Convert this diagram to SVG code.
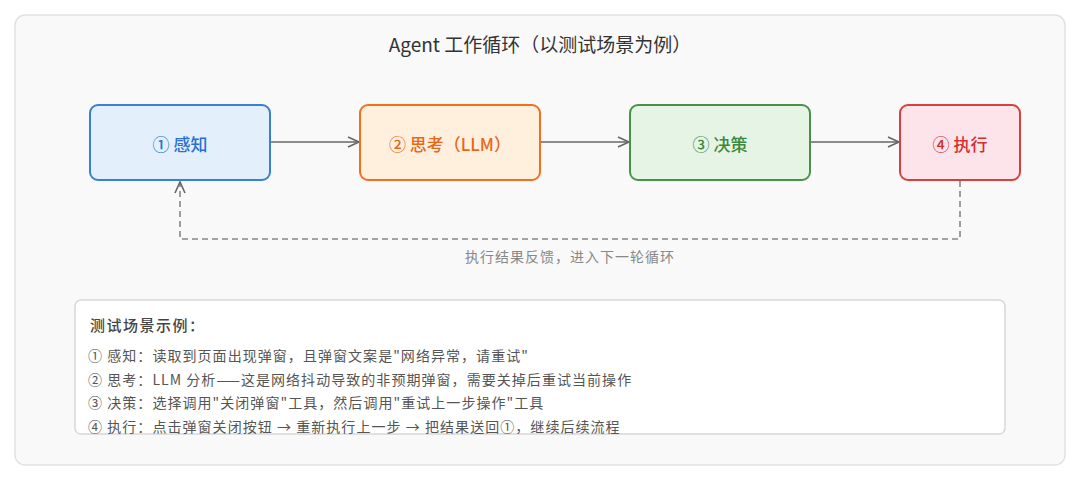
<svg xmlns="http://www.w3.org/2000/svg" width="1080" height="480" viewBox="0 0 1080 480">
<style>
text{font-family:"Noto Sans CJK SC","Noto Sans",sans-serif}
.node rect{stroke-width:2}
.nl{font-size:17px;font-weight:500;text-anchor:middle;dominant-baseline:central}
.ex{font-size:14px;fill:#555;letter-spacing:1.05px}
.conn{fill:none;stroke:#666;stroke-width:1.6}
</style>
<defs>
<marker id="arr" markerWidth="14" markerHeight="12" refX="12" refY="6" orient="auto" markerUnits="userSpaceOnUse">
<path d="M1,1 L12,6 L1,11" fill="none" stroke="#666" stroke-width="1.6"/>
</marker>
<clipPath id="bc"><rect x="75" y="300" width="930" height="134" rx="6"/></clipPath>
</defs>
<rect x="0" y="0" width="1080" height="480" fill="#ffffff"/>
<rect x="15" y="15" width="1050" height="450" rx="10" fill="#f9f9f9" stroke="#e2e2e2" stroke-width="1.5"/>
<text x="540" y="52" text-anchor="middle" font-size="19" fill="#333">Agent 工作循环（以测试场景为例）</text>
<g id="connectors">
<line class="conn" x1="270" y1="142" x2="359" y2="142" marker-end="url(#arr)"/>
<line class="conn" x1="540" y1="142" x2="629" y2="142" marker-end="url(#arr)"/>
<line class="conn" x1="810" y1="142" x2="899" y2="142" marker-end="url(#arr)"/>
<path d="M960,181 L960,239 L180,239 L180,182" fill="none" stroke="#888" stroke-width="1.6" stroke-dasharray="6,4" marker-end="url(#arr)"/>
<text x="570" y="262" text-anchor="middle" font-size="14" letter-spacing="1" fill="#888">执行结果反馈，进入下一轮循环</text>
</g>
<g id="n1" class="node"><rect x="90" y="105" width="180" height="75" rx="8" fill="#e3f0fc" stroke="#3a7fd0"/><text class="nl" x="180" y="143" fill="#2a6fcf">① 感知</text></g>
<g id="n2" class="node"><rect x="360" y="105" width="180" height="75" rx="8" fill="#fff0de" stroke="#f07020"/><text class="nl" x="450" y="143" fill="#e8671a">② 思考（LLM）</text></g>
<g id="n3" class="node"><rect x="630" y="105" width="180" height="75" rx="8" fill="#e6f4e6" stroke="#4a9248"/><text class="nl" x="720" y="143" fill="#3b8a3b">③ 决策</text></g>
<g id="n4" class="node"><rect x="900" y="105" width="120" height="75" rx="8" fill="#fde4ea" stroke="#d84040"/><text class="nl" x="960" y="143" fill="#d03030">④ 执行</text></g>
<g id="example">
<rect x="75" y="300" width="930" height="134" rx="6" fill="#ffffff" stroke="#d8d8d8" stroke-width="1.5"/>
<g clip-path="url(#bc)">
<text x="90" y="331" font-size="15" letter-spacing="1.5" fill="#444" font-weight="500">测试场景示例：</text>
<text class="ex" x="88" y="361">① 感知：读取到页面出现弹窗，且弹窗文案是"网络异常，请重试"</text>
<text class="ex" x="88" y="385">② 思考：LLM 分析——这是网络抖动导致的非预期弹窗，需要关掉后重试当前操作</text>
<text class="ex" x="88" y="408">③ 决策：选择调用"关闭弹窗"工具，然后调用"重试上一步操作"工具</text>
<text class="ex" x="88" y="432">④ 执行：点击弹窗关闭按钮 → 重新执行上一步 → 把结果送回①，继续后续流程</text>
</g>
</g>
</svg>
